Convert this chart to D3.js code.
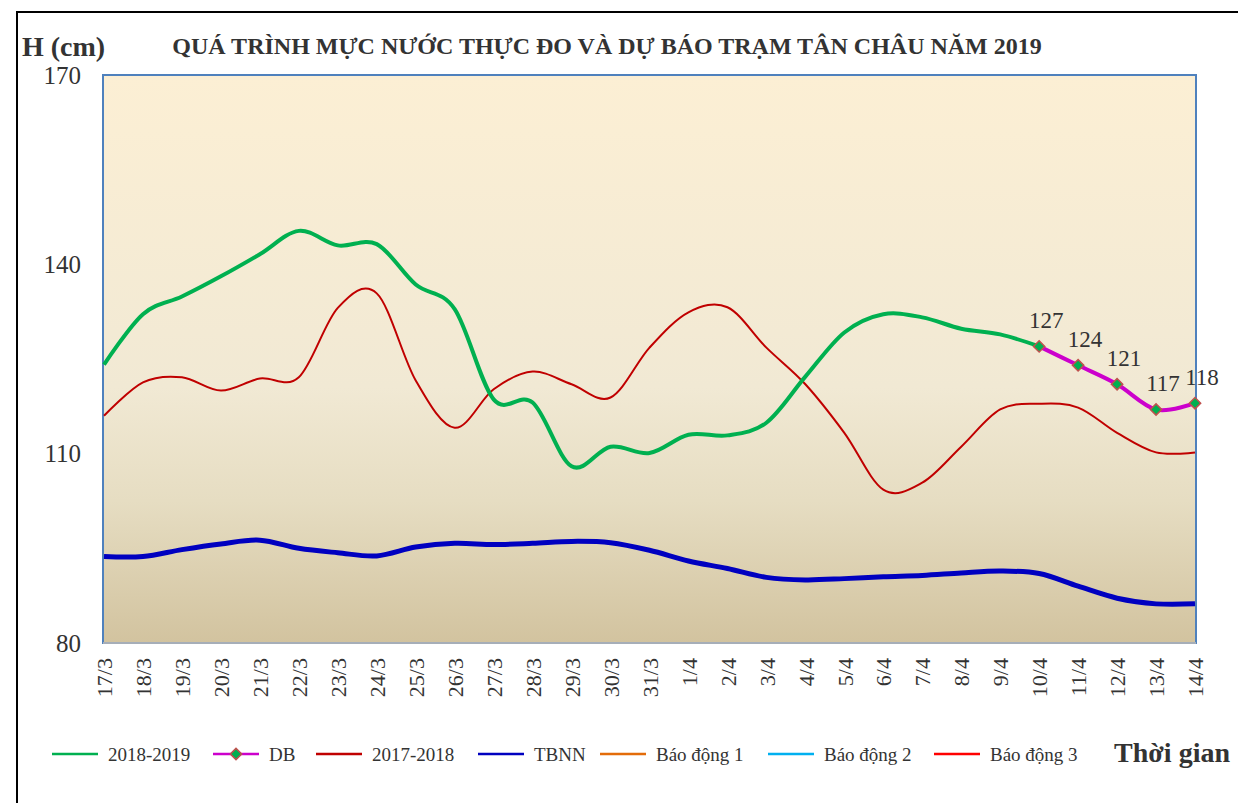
<!DOCTYPE html>
<html><head><meta charset="utf-8">
<script src="https://cdn.jsdelivr.net/npm/d3@7"></script>
<style>html,body{margin:0;padding:0;background:#fff;}svg{display:block;}</style>
</head><body>
<script>
const categories = ["17/3","18/3","19/3","20/3","21/3","22/3","23/3","24/3","25/3","26/3","27/3","28/3","29/3","30/3","31/3",
  "1/4","2/4","3/4","4/4","5/4","6/4","7/4","8/4","9/4","10/4","11/4","12/4","13/4","14/4"];
const obs20182019 = [124.1,132.1,134.9,138.1,141.6,145.3,143.0,143.2,136.8,132.9,118.6,118.1,108.0,111.1,110.1,
  113.0,112.9,114.9,122.2,129.2,132.1,131.6,129.8,128.9,127];
const dbCategories = ["10/4","11/4","12/4","13/4","14/4"];
const dbValues = [127,124,121,117,118];
const obs20172018 = [116.0,121.3,122.1,120.0,121.9,122.1,133.1,135.4,121.6,114.1,120.2,123.0,121.0,118.9,126.8,
  132.4,133.2,126.8,121.0,113.3,104.3,105.4,111.1,117.0,117.9,117.3,113.3,110.2,110.2];
const tbnn = [93.7,93.7,94.8,95.7,96.3,95.0,94.3,93.8,95.2,95.8,95.6,95.8,96.1,95.9,94.7,
  93.0,91.8,90.4,90.0,90.2,90.5,90.7,91.1,91.4,91.0,89.0,87.1,86.2,86.2];
const yTicks = [80,110,140,170];
const legendItems = [
  {name:"2018-2019", color:"#00B050", marker:false},
  {name:"DB", color:"#CC00CC", marker:true},
  {name:"2017-2018", color:"#C00000", marker:false},
  {name:"TBNN", color:"#0000C0", marker:false},
  {name:"Báo động 1", color:"#E36C09", marker:false},
  {name:"Báo động 2", color:"#00B0F0", marker:false},
  {name:"Báo động 3", color:"#FF0000", marker:false}
];

const W = 1238, H = 803;
const plot = {left:103, right:1196, top:75, bottom:643};
const svg = d3.select("body").append("svg").attr("width",W).attr("height",H);
const serif = "'Liberation Serif','Times New Roman',serif";

// outer frame
svg.append("rect").attr("x",17).attr("y",12).attr("width",1260).attr("height",820)
  .attr("fill","#fff").attr("stroke","#000").attr("stroke-width",2);

const defs = svg.append("defs");
const grad = defs.append("linearGradient").attr("id","bg").attr("x1",0).attr("y1",0).attr("x2",0).attr("y2",1);
[[0,"#fcefd4"],[0.55,"#f1e9d4"],[0.75,"#e6ddc2"],[1,"#d2c39f"]].forEach(s=>
  grad.append("stop").attr("offset",s[0]).attr("stop-color",s[1]));

svg.append("rect").attr("x",plot.left).attr("y",plot.top)
  .attr("width",plot.right-plot.left).attr("height",plot.bottom-plot.top)
  .attr("fill","url(#bg)").attr("stroke","#4F81BD").attr("stroke-width",2);
svg.append("line").attr("x1",plot.left).attr("x2",plot.right).attr("y1",plot.bottom).attr("y2",plot.bottom)
  .attr("stroke","#A6AEB8").attr("stroke-width",2);

const x = d3.scalePoint().domain(categories).range([plot.left+1, plot.right-1]);
const y = d3.scaleLinear().domain([80,170]).range([plot.bottom, plot.top]);

// y axis labels
const yAxis = d3.axisLeft(y).tickValues(yTicks).tickSize(0).tickPadding(22);
const ya = svg.append("g").attr("transform",`translate(${plot.left},0)`).call(yAxis);
ya.select(".domain").remove();
ya.selectAll("text").attr("font-family",serif).attr("font-size",25).attr("fill","#333");

// x axis labels
const xAxis = d3.axisBottom(x).tickSize(0).tickPadding(0);
const xa = svg.append("g").attr("transform",`translate(0,${plot.bottom})`).call(xAxis);
xa.select(".domain").remove();
xa.selectAll("text").attr("font-family",serif).attr("font-size",22).attr("fill","#333")
  .attr("text-anchor","end").attr("transform","rotate(-90)")
  .attr("x",-15).attr("y",0).attr("dy","0.35em");

const curve = d3.curveCardinal.tension(0);
const line = d3.line().defined(d=>d[1]!=null).x(d=>x(d[0])).y(d=>y(d[1])).curve(curve);

svg.append("path").datum(categories.map((c,i)=>[c,tbnn[i]])).attr("d",line)
  .attr("fill","none").attr("stroke","#0000C0").attr("stroke-width",5);
svg.append("path").datum(categories.map((c,i)=>[c,obs20172018[i]])).attr("d",line)
  .attr("fill","none").attr("stroke","#C00000").attr("stroke-width",2);
svg.append("path").datum(obs20182019.map((v,i)=>[categories[i],v])).attr("d",line)
  .attr("fill","none").attr("stroke","#00B050").attr("stroke-width",4);
const dbData = dbCategories.map((c,i)=>[c,dbValues[i]]);
svg.append("path").datum(dbData).attr("d",line)
  .attr("fill","none").attr("stroke","#CC00CC").attr("stroke-width",4);

svg.selectAll(".dbm").data(dbData).join("path").attr("class","dbm")
  .attr("d",d3.symbol().type(d3.symbolSquare).size(64))
  .attr("transform",d=>`translate(${x(d[0])},${y(d[1])}) rotate(45)`)
  .attr("fill","#00B050").attr("stroke","#C0504D").attr("stroke-width",1.5);
svg.selectAll(".dbl").data(dbData).join("text").attr("class","dbl")
  .attr("x",d=>x(d[0])+7).attr("y",d=>y(d[1])-18).attr("text-anchor","middle")
  .attr("font-family",serif).attr("font-size",23).attr("fill","#333").text(d=>d[1]);

// titles
svg.append("text").attr("x",607).attr("y",54).attr("text-anchor","middle")
  .attr("font-family",serif).attr("font-weight","bold").attr("font-size",24).attr("fill","#333")
  .text("QUÁ TRÌNH MỰC NƯỚC THỰC ĐO VÀ DỰ BÁO TRẠM TÂN CHÂU NĂM 2019");
svg.append("text").attr("x",22).attr("y",56)
  .attr("font-family",serif).attr("font-weight","bold").attr("font-size",28).attr("fill","#333")
  .text("H (cm)");
svg.append("text").attr("x",1230).attr("y",762).attr("text-anchor","end")
  .attr("font-family",serif).attr("font-weight","bold").attr("font-size",28).attr("fill","#333")
  .text("Thời gian");

// legend
const legendX = [52,213,316,478,600,768,934];
const lg = svg.append("g");
legendItems.forEach((it,i)=>{
  const g = lg.append("g").attr("transform",`translate(${legendX[i]},754)`);
  g.append("line").attr("x1",0).attr("x2",46).attr("stroke",it.color).attr("stroke-width",2.5);
  if(it.marker){
    g.append("path").attr("d",d3.symbol().type(d3.symbolSquare).size(64))
      .attr("transform","translate(23,0) rotate(45)")
      .attr("fill","#00B050").attr("stroke","#C0504D").attr("stroke-width",1.5);
  }
  g.append("text").attr("x",56).attr("y",0).attr("dy","0.35em")
    .attr("font-family",serif).attr("font-size",19).attr("fill","#333").text(it.name);
});
</script>
</body></html>
